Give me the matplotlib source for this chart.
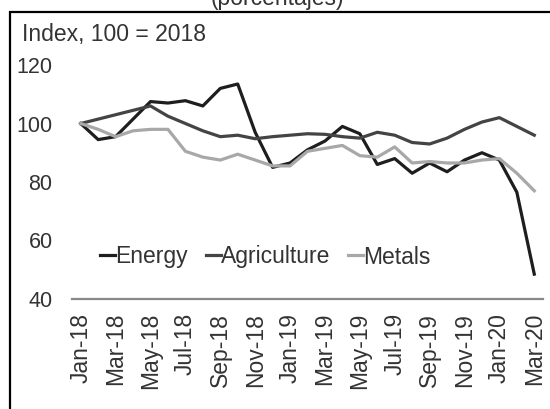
import numpy as np
import matplotlib
matplotlib.use("Agg")
from matplotlib import pyplot as plt
from matplotlib.patches import Rectangle

plt.rcParams['font.family'] = ['Liberation Sans', 'DejaVu Sans']

#### Datos (indice, 100 = 2018)
meses = ['Jan-18', 'Feb-18', 'Mar-18', 'Apr-18', 'May-18', 'Jun-18', 'Jul-18', 'Aug-18', 'Sep-18',
         'Oct-18', 'Nov-18', 'Dec-18', 'Jan-19', 'Feb-19', 'Mar-19', 'Apr-19', 'May-19', 'Jun-19',
         'Jul-19', 'Aug-19', 'Sep-19', 'Oct-19', 'Nov-19', 'Dec-19', 'Jan-20', 'Feb-20', 'Mar-20']
energy = [100, 94.5, 95.5, 101.5, 107.5, 107, 107.8, 106, 112, 113.5, 97, 85, 86.5, 91, 94,
          99, 96.5, 86, 88, 83, 86.5, 83.5, 87.5, 90, 87.5, 76.5, 48.5]
agriculture = [100, 101.5, 103, 104.5, 106, 102.5, 100, 97.5, 95.5, 96, 94.8, 95.5, 96, 96.5,
               96.3, 95.5, 95, 97, 96, 93.5, 93, 95, 98, 100.5, 102, 99, 96]
metals = [100, 98, 95.5, 97.5, 98, 98, 90.5, 88.5, 87.5, 89.5, 87.5, 85.5, 85.5, 90.5, 91.5,
          92.5, 89, 88.5, 92, 86.5, 87, 86.5, 86.5, 87.5, 88, 83, 77]

W, H = 550, 409
fig = plt.figure(figsize=(5.5, 4.09), dpi=100)
ax = fig.add_axes([72 / W, 1 - 299 / H, 471 / W, 234 / H])

x = np.arange(len(meses))
ax.plot(x, energy, color='#1e1e1e', lw=2.3, label='Energy')
ax.plot(x, agriculture, color='#444444', lw=2.3, label='Agriculture')
ax.plot(x, metals, color='#a8a8a8', lw=2.3, label='Metals')

ax.set_xlim(-0.5, len(meses) - 0.5)
ax.set_ylim(40, 120)
ax.set_yticks([40, 60, 80, 100, 120])
ax.set_xticks(x[::2])
ax.set_xticklabels(meses[::2], rotation=90)
ax.tick_params(axis='y', length=0, pad=14, labelsize=15.5, colors='#333333')
ax.tick_params(axis='x', length=0, pad=10, labelsize=16.5, colors='#333333')
for s in ['top', 'right', 'left']:
    ax.spines[s].set_visible(False)
ax.spines['bottom'].set_color('#888888')
ax.spines['bottom'].set_linewidth(1.6)

ax.legend(loc='center left', bbox_to_anchor=(100 / W, 1 - 257 / H), bbox_transform=fig.transFigure,
          ncol=3, frameon=False, fontsize=16.5, handlelength=0.65, handletextpad=0.0,
          columnspacing=0.8, borderpad=0, borderaxespad=0, labelcolor='#333333')

fig.text(22 / W, 1 - 35 / H, 'Index, 100 = 2018', fontsize=16.5, color='#333333', va='center', ha='left')
fig.text(277 / W, 1 - 5 / H, '(porcentajes)', fontsize=16.5, color='#333333', va='baseline', ha='center')

# marco
fig.add_artist(Rectangle((10 / W, -0.2), 1.5, 1.2 - 12 / H, transform=fig.transFigure,
                         fill=False, edgecolor='black', lw=1.6, clip_on=False))

plt.savefig('out.png', dpi=100)
